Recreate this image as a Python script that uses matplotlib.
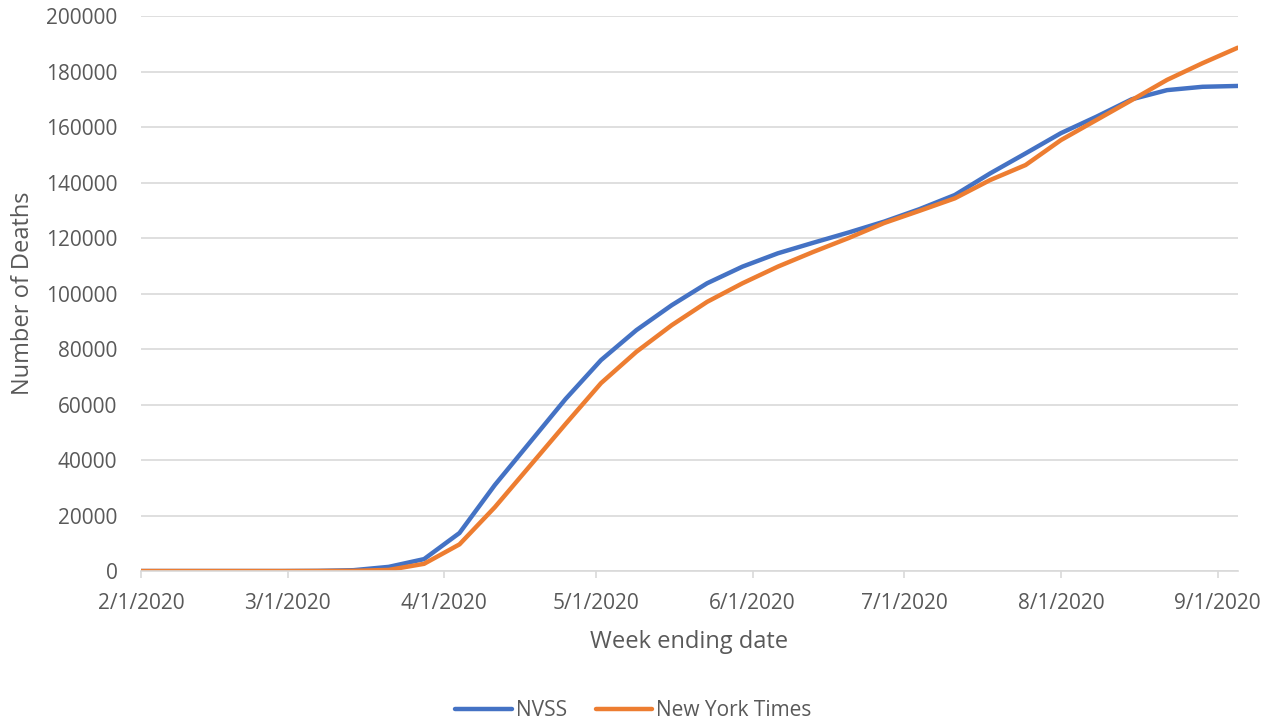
import pandas as pd
import matplotlib
matplotlib.use("Agg")
import matplotlib.pyplot as plt
import matplotlib.dates as mdates

plt.rcParams['font.family'] = ['Open Sans', 'DejaVu Sans']

# weekly data, week ending Saturdays
weeks = pd.date_range('2020-02-01', '2020-09-05', freq='7D')

nvss = [0, 0, 0, 0, 0, 60, 300, 1500, 4300, 13700,
        31000, 46500, 62000, 76000, 86800, 95800, 103700, 109700, 114500, 118300,
        122000, 125900, 130400, 135500, 143300, 150500, 157800, 163700, 170000, 173300,
        174500, 174800]
nyt = [0, 0, 0, 0, 0, 20, 60, 400, 2600, 9600,
       23000, 38000, 53000, 67700, 79000, 88600, 97000, 103700, 109700, 115000,
       120000, 125400, 129800, 134300, 140900, 146300, 155300, 162500, 169700, 177000,
       183000, 188600]

grey = '#595959'
grid = '#d9d9d9'

fig = plt.figure(figsize=(12.67, 7.22), dpi=100)
ax = fig.add_axes([0.1113, 0.2091, 0.8657, 0.7687])

ax.plot(weeks, nvss, color='#4472c4', lw=3.2, label='NVSS', solid_capstyle='round')
ax.plot(weeks, nyt, color='#ed7d31', lw=3.2, label='New York Times', solid_capstyle='round')

ax.set_xlim(pd.Timestamp('2020-02-01'), pd.Timestamp('2020-09-05'))
ax.set_ylim(0, 200000)
ax.set_yticks(range(0, 200001, 20000))
ax.xaxis.set_major_locator(mdates.MonthLocator())
ax.xaxis.set_major_formatter(plt.FuncFormatter(
    lambda v, p: (lambda d: f"{d.month}/{d.day}/{d.year}")(mdates.num2date(v))))

ax.grid(axis='y', color=grid, lw=1.2)
ax.set_axisbelow(True)
for s in ['top', 'right', 'left']:
    ax.spines[s].set_visible(False)
ax.spines['bottom'].set_color(grid)
ax.spines['bottom'].set_linewidth(1.2)
ax.tick_params(axis='x', colors=grid, length=5, width=1.2, labelcolor=grey, labelsize=15, pad=11)
ax.tick_params(axis='y', length=0, labelcolor=grey, labelsize=15, pad=17)

ax.set_xlabel('Week ending date', color=grey, fontsize=17)
ax.set_ylabel('Number of Deaths', color=grey, fontsize=17)
ax.xaxis.label.set_va('center')
ax.yaxis.label.set_va('center')
ax.xaxis.set_label_coords(0.5, (571 - 642) / 555)
ax.yaxis.set_label_coords((23 - 141) / 1097, 0.5)

fig.legend(loc='center', bbox_to_anchor=(0.5, 1 - 711 / 722), ncol=2, frameon=False,
           fontsize=15, labelcolor=grey, handlelength=2.7, columnspacing=1.4, handletextpad=0.2)

plt.savefig('out.png', dpi=100)
